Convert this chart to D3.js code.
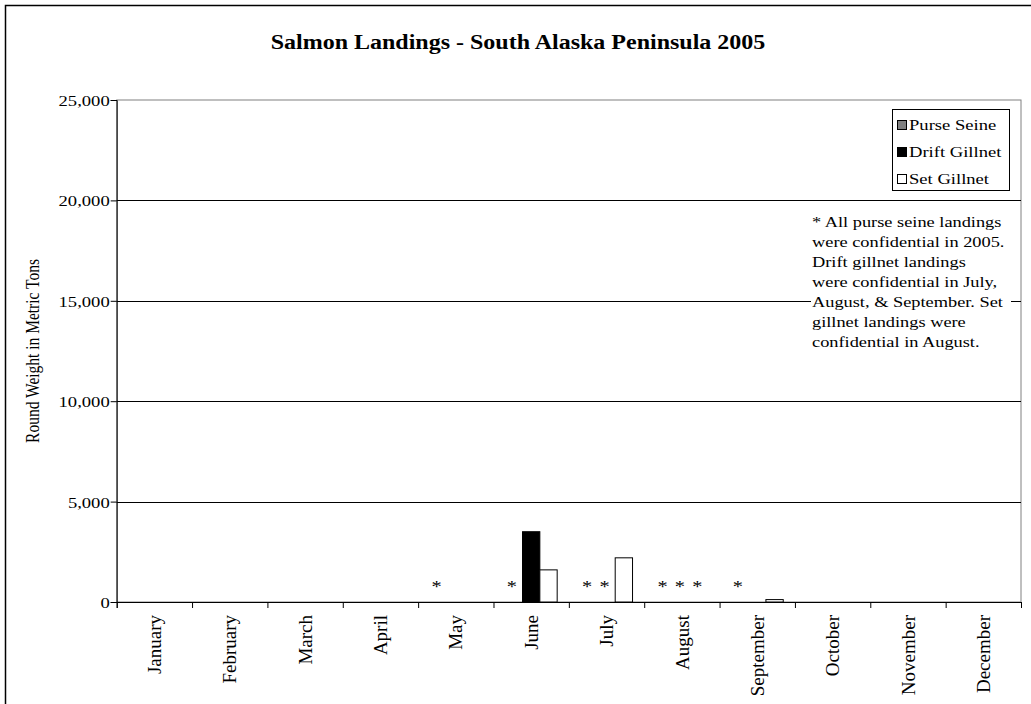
<!DOCTYPE html>
<html><head><meta charset="utf-8">
<script src="https://cdn.jsdelivr.net/npm/d3@7"></script>
<style>body{margin:0;background:#fff}svg text{font-family:"Liberation Serif","Times New Roman",serif;fill:#000}</style>
</head><body><svg id="c" width="1031" height="704"></svg>
<script>
const months = ["January","February","March","April","May","June","July","August","September","October","November","December"];
const seriesNames = ["Purse Seine","Drift Gillnet","Set Gillnet"];
const purseSeine = [0,0,0,0,0,0,0,0,0,0,0,0];
const driftGillnet = [0,0,0,0,0,3500,0,0,0,0,0,0];
const setGillnet = [0,0,0,0,0,1600,2200,0,120,0,0,0];
const yTicks = [0,5000,10000,15000,20000,25000];
const asteriskMonths = ["May","June","July","July","August","August","August","September"];
const asteriskSeries = ["Purse Seine","Purse Seine","Purse Seine","Drift Gillnet","Purse Seine","Drift Gillnet","Set Gillnet","Purse Seine"];
const title = "Salmon Landings - South Alaska Peninsula 2005";
const yTitle = "Round Weight in Metric Tons";
const noteLines = ["* All purse seine landings","were confidential in 2005.","Drift gillnet landings","were confidential in July,","August, & September. Set","gillnet landings were","confidential in August."];

const colors = {"Purse Seine":"#808080","Drift Gillnet":"#000000","Set Gillnet":"#ffffff"};
const values = {"Purse Seine":purseSeine,"Drift Gillnet":driftGillnet,"Set Gillnet":setGillnet};

const svg = d3.select("#c");
const L=116.7, R=1021, T=100, B=602;
const SX = 1.2; // horizontal stretch of text

svg.append("rect").attr("x",5.5).attr("y",5.5).attr("width",1040).attr("height",720)
  .attr("fill","#fff").attr("stroke","#000").attr("stroke-width",1.5);

const x0 = d3.scaleBand().domain(months).range([L,R]).padding(0);
const bw = x0.bandwidth();
const x1 = d3.scaleBand().domain(seriesNames).range([bw*0.155,bw*0.845]);
const y = d3.scaleLinear().domain([0,25000]).range([B,T]);

// plot area border
svg.append("rect").attr("x",L).attr("y",T).attr("width",R-L).attr("height",B-T)
  .attr("fill","#fff").attr("stroke","#808080").attr("stroke-width",1);

// gridlines
svg.append("g").selectAll("line").data(yTicks.filter(d=>d>0&&d<25000)).join("line")
  .attr("x1",L).attr("x2",R).attr("y1",d=>Math.round(y(d))+0.5).attr("y2",d=>Math.round(y(d))+0.5)
  .attr("stroke","#000").attr("stroke-width",1);

// note box
const noteX = 811, noteTop = 208;
svg.append("rect").attr("x",noteX).attr("y",noteTop).attr("width",200).attr("height",148).attr("fill","#fff");
const note = svg.append("text").attr("font-size",15.3)
  .attr("transform",`translate(${noteX+1},${noteTop+19}) scale(${SX},1)`);
noteLines.forEach((l,i)=>note.append("tspan").attr("x",0).attr("y",i*20).text(l));

// bars
const data = [];
months.forEach((m,i)=>seriesNames.forEach(s=>{ if(values[s][i]>0) data.push({m,s,v:values[s][i]}); }));
svg.append("g").selectAll("rect").data(data).join("rect")
  .attr("x",d=>x0(d.m)+x1(d.s)).attr("width",x1.bandwidth())
  .attr("y",d=>y(d.v)).attr("height",d=>B-y(d.v))
  .attr("fill",d=>colors[d.s]).attr("stroke","#000").attr("stroke-width",1);

// asterisks
svg.append("g").selectAll("text").data(asteriskMonths.map((m,i)=>({m,s:asteriskSeries[i]}))).join("text")
  .attr("text-anchor","middle").attr("font-size",17)
  .attr("transform",d=>`translate(${x0(d.m)+x1(d.s)+x1.bandwidth()/2-2},${592}) scale(${SX},1)`)
  .text("*");

// y axis
const yAxis = d3.axisLeft(y).tickValues(yTicks).tickFormat(d3.format(",")).tickSize(6).tickPadding(6);
const gy = svg.append("g").attr("transform",`translate(${L},0)`).call(yAxis);
gy.select(".domain").attr("stroke","#000");
gy.selectAll(".tick line").attr("stroke","#000");
gy.selectAll(".tick text").attr("font-size",null).style("font-size","15.5px")
  .attr("font-family",null).each(function(){
    const t=d3.select(this); t.attr("transform",`scale(${SX},1)`).attr("x",-7/SX).attr("dy","0.35em");
  });

// x axis
const xAxis = d3.axisBottom(d3.scaleLinear().domain([0,12]).range([L,R])).tickValues(d3.range(13)).tickSize(6).tickFormat("");
const gx = svg.append("g").attr("transform",`translate(0,${B})`).call(xAxis);
gx.select(".domain").attr("stroke","#000");
gx.selectAll(".tick line").attr("stroke","#000");
svg.append("g").selectAll("text").data(months).join("text")
  .attr("text-anchor","end").attr("font-size",19)
  .attr("transform",d=>`translate(${x0(d)+bw/2},${B+13}) scale(1.0,1) rotate(-90)`)
  .attr("dy","0.35em").text(d=>d);

// title
svg.append("text").attr("text-anchor","middle").attr("font-size",20).attr("font-weight","bold")
  .attr("transform",`translate(518,49) scale(${SX},1)`).text(title);

// y title
svg.append("text").attr("text-anchor","middle").attr("font-size",15.5)
  .attr("transform",`translate(39,351) scale(${SX},1) rotate(-90)`).text(yTitle);

// legend
const lg = svg.append("g").attr("transform","translate(892,109)");
lg.append("rect").attr("x",0.5).attr("y",0.5).attr("width",117).attr("height",81).attr("fill","#fff").attr("stroke","#000");
const li = lg.selectAll("g").data(seriesNames).join("g").attr("transform",(d,i)=>`translate(5,${16+i*27})`);
li.append("rect").attr("x",0.5).attr("y",-4.5).attr("width",9).attr("height",9).attr("fill",d=>colors[d]).attr("stroke","#000");
li.append("text").attr("transform",`translate(12,0) scale(${SX},1)`).attr("font-size",15.5).attr("dy","0.35em").text(d=>d);
</script></body></html>
